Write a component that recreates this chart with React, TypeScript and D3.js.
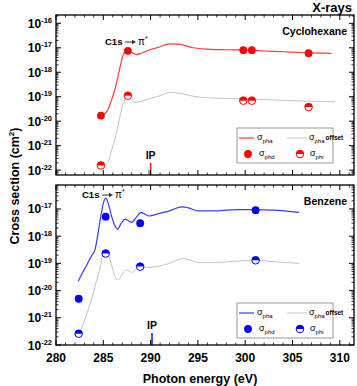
import React from "react";
import * as d3 from "d3";

// ---- Cyclohexane (top panel) ----
const chxPhaE = [284.75, 285.1, 285.5, 285.9, 286.3, 286.7, 287.1, 287.5, 288.0, 288.5, 289.0, 290.0, 291.0, 292.0, 293.0, 294.5, 296.0, 298.0, 300.0, 302.0, 304.0, 306.0, 308.0, 309.1];
const chxPha = [1.7e-20, 1.9e-20, 3e-20, 8e-20, 2.5e-19, 1.25e-18, 5e-18, 8e-18, 6.5e-18, 5.3e-18, 6e-18, 8.5e-18, 1.1e-17, 1.45e-17, 1.4e-17, 1e-17, 8.8e-18, 8.3e-18, 8e-18, 7.4e-18, 6.9e-18, 6.4e-18, 6.1e-18, 5.9e-18];
const chxOffE = [284.75, 285.1, 285.5, 285.9, 286.2, 286.5, 286.8, 287.1, 287.5, 288.0, 288.5, 289.0, 290.0, 291.0, 292.0, 293.0, 294.5, 296.0, 298.0, 300.0, 302.0, 304.0, 306.0, 308.0, 309.5];
const chxOff = [1.55e-22, 1.7e-22, 2.2e-22, 7e-22, 1.7e-21, 5e-21, 1.8e-20, 5e-20, 1.1e-19, 7e-20, 5.8e-20, 6.5e-20, 8.5e-20, 1.1e-19, 1.5e-19, 1.4e-19, 1.05e-19, 9e-20, 8.5e-20, 8.2e-20, 7.6e-20, 7.1e-20, 6.7e-20, 6.4e-20, 6.2e-20];
const chxPtE = [284.75, 287.6, 299.8, 300.7, 306.7];
const chxPhd = [1.7e-20, 7.5e-18, 8e-18, 8e-18, 6e-18];
const chxPhi = [1.55e-22, 1.1e-19, 6.9e-20, 6.9e-20, 3.8e-20];
const chxIP = 290.0;

// ---- Benzene (bottom panel) ----
const bzPhaE = [282.35, 282.8, 283.2, 283.5, 283.8, 284.1, 284.4, 284.7, 285.0, 285.25, 285.5, 285.9, 286.2, 286.5, 286.9, 287.3, 287.7, 288.0, 288.5, 289.0, 289.4, 289.8, 291.0, 292.0, 293.3, 294.0, 295.0, 297.0, 299.0, 301.0, 303.0, 305.7];
const bzPha = [2.2e-20, 4.5e-20, 8e-20, 1.3e-19, 2e-19, 3e-19, 1e-18, 4.5e-18, 1.6e-17, 2.5e-17, 1.7e-17, 5e-18, 2.5e-18, 1.8e-18, 3e-18, 4.2e-18, 3.6e-18, 3.2e-18, 5e-18, 7.5e-18, 6.5e-18, 5.5e-18, 7e-18, 8.5e-18, 1.2e-17, 1.1e-17, 8.5e-18, 8.5e-18, 9.5e-18, 9.5e-18, 9e-18, 7.5e-18];
const bzOffE = [282.4, 282.8, 283.05, 283.5, 283.9, 284.3, 284.65, 285.0, 285.25, 285.6, 286.0, 286.3, 286.6, 287.0, 287.45, 288.0, 288.5, 288.9, 289.6, 290.5, 292.0, 293.4, 294.2, 295.2, 297.0, 299.0, 301.0, 303.0, 305.7];
const bzOff = [2.8e-22, 5e-22, 8.5e-22, 2.5e-21, 7e-21, 2.5e-20, 6.3e-20, 2.5e-19, 3e-19, 1.8e-19, 6e-20, 3e-20, 2.5e-20, 4e-20, 5.8e-20, 4.7e-20, 6.5e-20, 8e-20, 7e-20, 7.5e-20, 1e-19, 1.5e-19, 1.3e-19, 1.07e-19, 1.08e-19, 1.2e-19, 1.3e-19, 1.15e-19, 1e-19];
const bzPtE = [282.4, 285.25, 288.9, 301.1];
const bzPhd = [5e-21, 5.2e-18, 3e-18, 9e-18];
const bzPhi = [2.6e-22, 2.3e-19, 7.6e-20, 1.3e-19];
const bzIP = 290.15;

// axis ticks
const xMajor = [280, 285, 290, 295, 300, 305, 310];
const topExps = [-22, -21, -20, -19, -18, -17, -16];
const botExps = [-22, -21, -20, -19, -18, -17];

const W = 357;
const H = 386;
const FONT = "Arial, 'Liberation Sans', sans-serif";
const GRAY = "#c4c4c4";

const x = d3.scaleLinear().domain([280, 311.5]).range([56, 354]);
const xMinor = d3.range(280, 312, 1);

const HalfDot = ({ cx, cy, color }) => {
    const r = 3.8;
    return (
        <g>
            <circle cx={cx} cy={cy} r={r} fill="#fff" stroke={color} strokeWidth={1} />
            <path d={`M${cx - r},${cy} A${r},${r} 0 0 1 ${cx + r},${cy} Z`} fill={color} />
        </g>
    );
};

const Panel = ({ top, bottom, lo, hi, exps, color, lineColor, phaE, pha, offE, off, ptE, phd, phi, ip, name, ann, legendTop }) => {
    const y = d3.scaleLog().domain([Math.pow(10, lo), Math.pow(10, hi)]).range([bottom, top]);
    const line = d3.line().x(d => x(d[0])).y(d => y(d[1])).curve(d3.curveMonotoneX);
    const left = x.range()[0];
    const right = x.range()[1];

    // minor log ticks
    const minor = [];
    for (let e = Math.floor(lo); e <= Math.ceil(hi); e++) {
        for (let m = 2; m <= 9; m++) {
            const v = m * Math.pow(10, e);
            if (v > Math.pow(10, lo) && v < Math.pow(10, hi)) minor.push(v);
        }
    }

    const lx = 237, lw = 96, lh = 35;

    return (
        <g>
            {/* curves */}
            <path d={line(offE.map((e, i) => [e, off[i]]))} fill="none" stroke={GRAY} strokeWidth={1} />
            <path d={line(phaE.map((e, i) => [e, pha[i]]))} fill="none" stroke={lineColor} strokeWidth={1.2} />

            {/* points */}
            {ptE.map((e, i) => (
                <circle key={"d" + i} cx={x(e)} cy={y(phd[i])} r={3.9} fill={color} />
            ))}
            {ptE.map((e, i) => (
                <HalfDot key={"h" + i} cx={x(e)} cy={y(phi[i])} color={color} />
            ))}

            {/* IP marker */}
            <line x1={x(ip) - 1.5} x2={x(ip) - 1.5} y1={bottom - 5} y2={bottom} stroke="#666" strokeWidth={1.2} />
            <line x1={x(ip)} x2={x(ip)} y1={bottom - 12} y2={bottom} stroke={color} strokeWidth={1.4} />
            <text x={x(ip)} y={bottom - 16} textAnchor="middle" style={{ fontSize: "10.5px", fontWeight: "bold", fontFamily: FONT }}>IP</text>

            {/* C1s -> pi* */}
            <text x={ann[0]} y={ann[1]} style={{ fontSize: "9.5px", fontWeight: "bold", fontFamily: FONT }}>C1s</text>
            <line x1={ann[0] + 20} x2={ann[0] + 28} y1={ann[1] - 3} y2={ann[1] - 3} stroke="#555" strokeWidth={1.2} />
            <path d={`M${ann[0] + 31},${ann[1] - 3} l-4,-2.2 l0,4.4 Z`} fill="#333" />
            <text x={ann[0] + 33} y={ann[1]} style={{ fontSize: "10px", fontFamily: FONT }}>
                π<tspan dy={-4} style={{ fontSize: "7px" }}>*</tspan>
            </text>

            {/* name */}
            <text x={347} y={top + 20} textAnchor="end" style={{ fontSize: "10.5px", fontWeight: "bold", fontFamily: FONT }}>{name}</text>

            {/* y ticks */}
            {exps.map(e => (
                <g key={e} transform={`translate(0,${y(Math.pow(10, e))})`}>
                    <line x1={left} x2={left + 5} stroke="#000" />
                    <line x1={right} x2={right - 5} stroke="#000" />
                    <text x={52} y={4.5} textAnchor="end" style={{ fontSize: "12px", fontWeight: "bold", fontFamily: FONT }}>
                        10<tspan dy={-5} style={{ fontSize: "7.5px" }}>{e}</tspan>
                    </text>
                </g>
            ))}
            {minor.map((v, i) => (
                <g key={"m" + i} transform={`translate(0,${y(v)})`}>
                    <line x1={left} x2={left + 2.5} stroke="#000" strokeWidth={0.8} />
                    <line x1={right} x2={right - 2.5} stroke="#000" strokeWidth={0.8} />
                </g>
            ))}

            {/* x ticks, top and bottom */}
            {xMinor.map(v => {
                const major = v % 5 === 0;
                const len = major ? 5 : 2.5;
                return (
                    <g key={v}>
                        <line x1={x(v)} x2={x(v)} y1={bottom} y2={bottom - len} stroke="#000" strokeWidth={major ? 1 : 0.8} />
                        <line x1={x(v)} x2={x(v)} y1={top} y2={top + len} stroke="#000" strokeWidth={major ? 1 : 0.8} />
                    </g>
                );
            })}

            {/* frame */}
            <rect x={left} y={top} width={right - left} height={bottom - top} fill="none" stroke="#000" strokeWidth={1.3} />

            {/* legend */}
            <g style={{ fontFamily: FONT }}>
                <rect x={lx} y={legendTop} width={lw} height={lh} fill="#fff" stroke="#999" strokeWidth={1} />
                <line x1={lx + 2} x2={lx + 17} y1={legendTop + 10} y2={legendTop + 10} stroke={lineColor} strokeWidth={1.2} />
                <text x={lx + 20} y={legendTop + 12} style={{ fontSize: "9px" }}>
                    σ<tspan dy={2.5} style={{ fontSize: "6px" }}>pha</tspan>
                </text>
                <line x1={lx + 50} x2={lx + 70} y1={legendTop + 10} y2={legendTop + 10} stroke={GRAY} strokeWidth={1} />
                <text x={lx + 72} y={legendTop + 12} style={{ fontSize: "9px" }}>
                    σ<tspan dy={2.5} style={{ fontSize: "6px" }}>pha</tspan>
                    <tspan dy={-3} dx={1} style={{ fontSize: "6.5px", fontWeight: "bold" }}>offset</tspan>
                </text>
                <circle cx={lx + 11} cy={legendTop + 26} r={3.9} fill={color} />
                <text x={lx + 22} y={legendTop + 28} style={{ fontSize: "9px" }}>
                    σ<tspan dy={2.5} style={{ fontSize: "6px" }}>phd</tspan>
                </text>
                <HalfDot cx={lx + 63} cy={legendTop + 26} color={color} />
                <text x={lx + 73} y={legendTop + 28} style={{ fontSize: "9px" }}>
                    σ<tspan dy={2.5} style={{ fontSize: "6px" }}>phi</tspan>
                </text>
            </g>
        </g>
    );
};

const App = () => {
    return (
        <svg width={W} height={H} viewBox={`0 0 ${W} ${H}`} style={{ position: "absolute", left: 0, top: 0, display: "block", background: "#fff" }}>
            <text x={352} y={12} textAnchor="end" style={{ fontSize: "13px", fontWeight: "bold", fontFamily: FONT }}>X-rays</text>

            <Panel
                top={15} bottom={175} lo={-22.2} hi={-15.66} exps={topExps}
                color="#ff0000" lineColor="#ff3b3b"
                phaE={chxPhaE} pha={chxPha} offE={chxOffE} off={chxOff}
                ptE={chxPtE} phd={chxPhd} phi={chxPhi} ip={chxIP}
                name="Cyclohexane" ann={[105, 45]} legendTop={128}
            />
            <Panel
                top={185} bottom={345} lo={-22} hi={-16.12} exps={botExps}
                color="#0000ff" lineColor="#3a3aff"
                phaE={bzPhaE} pha={bzPha} offE={bzOffE} off={bzOff}
                ptE={bzPtE} phd={bzPhd} phi={bzPhi} ip={bzIP}
                name="Benzene" ann={[82, 198]} legendTop={303}
            />

            {/* x tick labels */}
            {xMajor.map(v => (
                <text key={v} x={x(v)} y={362} textAnchor="middle" style={{ fontSize: "12px", fontWeight: "bold", fontFamily: FONT }}>{v}</text>
            ))}

            <text x={200} y={383} textAnchor="middle" style={{ fontSize: "12.5px", fontWeight: "bold", fontFamily: FONT }}>Photon energy (eV)</text>
            <text transform="rotate(-90)" x={-186} y={19} textAnchor="middle" style={{ fontSize: "12.5px", fontWeight: "bold", fontFamily: FONT }}>
                Cross section (cm<tspan dy={-5} style={{ fontSize: "8px" }}>2</tspan><tspan dy={5}>)</tspan>
            </text>
        </svg>
    );
};

export default App;
